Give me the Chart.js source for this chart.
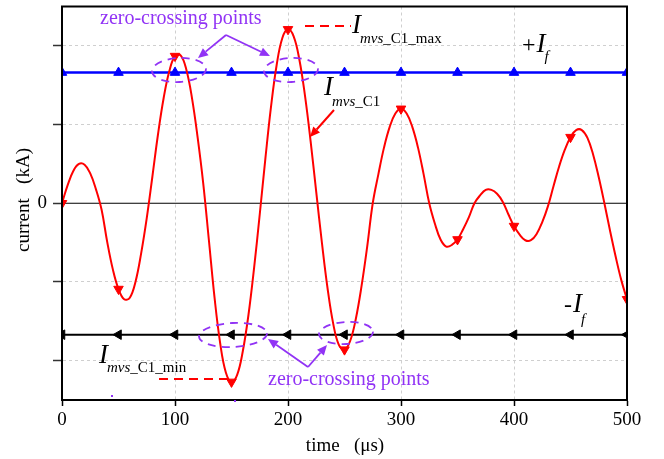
<!DOCTYPE html>
<html><head><meta charset="utf-8">
<script src="https://cdn.jsdelivr.net/npm/chart.js@4"></script>
<style>html,body{margin:0;padding:0;background:#fff}#wrap{width:664px;height:459px}</style>
</head><body><div id="wrap"><canvas id="c" width="664" height="459"></canvas></div>
<script>
// ---- data ----
const time = [0,5,10,15,20,25,30,35,40,45,50,55,60,65,70,75,80,85,90,95,100,105,110,115,120,125,130,135,140,145,150,155,160,165,170,175,180,185,190,195,200,205,210,215,220,225,230,235,240,245,250,255,260,265,270,275,280,285,290,295,300,305,310,315,320,325,330,335,340,345,350,355,360,365,370,375,380,385,390,395,400,405,410,415,420,425,430,435,440,445,450,455,460,465,470,475,480,485,490,495,500];
const currentC1 = [0,0.23,0.41,0.50,0.49,0.38,0.18,-0.08,-0.49,-0.84,-1.09,-1.22,-1.20,-1.00,-0.64,-0.19,0.34,0.88,1.34,1.68,1.87,1.88,1.70,1.34,0.84,0.25,-0.47,-1.20,-1.78,-2.15,-2.27,-2.18,-1.88,-1.42,-0.82,-0.14,0.57,1.23,1.76,2.10,2.21,2.12,1.83,1.37,0.79,0.14,-0.50,-1.08,-1.53,-1.80,-1.86,-1.75,-1.47,-1.06,-0.56,0.00,0.37,0.71,0.97,1.14,1.20,1.14,0.97,0.71,0.37,0.00,-0.26,-0.46,-0.55,-0.53,-0.46,-0.33,-0.18,0.00,0.10,0.17,0.17,0.12,0.02,-0.14,-0.29,-0.40,-0.47,-0.47,-0.39,-0.24,-0.04,0.22,0.47,0.68,0.84,0.93,0.93,0.83,0.62,0.33,0.00,-0.35,-0.68,-0.98,-1.22];
const markerTime = [0,50,100,150,200,250,300,350,400,450,500];
const plusIf = [1.66,1.66,1.66,1.66,1.66,1.66,1.66,1.66,1.66,1.66,1.66];
const minusIf = [-1.67,-1.67,-1.67,-1.67,-1.67,-1.67,-1.67,-1.67,-1.67,-1.67,-1.67];
const xTicks = [0,100,200,300,400,500];
const yTicks = [-2,-1,0,1,2];
const yTickLabels = {"0":"0"};

const SERIF = "'Liberation Serif','Times New Roman',serif";
const PURPLE = '#9133F5';
Chart.defaults.font.family = SERIF;

const pts = (xs, ys) => xs.map((x,i)=>({x:x, y:ys[i]}));

const annot = {
  id:'annot',
  afterDraw(chart){
    const ctx = chart.ctx, a = chart.chartArea;
    ctx.save();
    // frame
    ctx.strokeStyle = '#000'; ctx.lineWidth = 2; ctx.setLineDash([]);
    ctx.strokeRect(a.left, a.top, a.right - a.left, a.bottom - a.top);

    // axis titles
    ctx.fillStyle = '#000';
    ctx.font = '19px ' + SERIF;
    ctx.textAlign = 'center'; ctx.textBaseline = 'middle';
    ctx.fillText('time   (\u03bcs)', 345, 446);
    ctx.save(); ctx.translate(24, 200); ctx.rotate(-Math.PI/2);
    ctx.fillText('current   (kA)', 0, 0); ctx.restore();

    ctx.textBaseline = 'alphabetic'; ctx.textAlign = 'left';
    const sym = (x, y, pre, sub1, sub2, subDy, color) => {
      ctx.fillStyle = color || '#000';
      let cx = x;
      if (pre) { ctx.font = '24px ' + SERIF; ctx.fillText(pre, cx, y); cx += ctx.measureText(pre).width + 1; }
      ctx.font = 'italic 27px ' + SERIF; ctx.fillText('I', cx, y);
      cx += ctx.measureText('I').width - 1;
      ctx.font = 'italic 15px ' + SERIF; ctx.fillText(sub1, cx, y + subDy);
      cx += ctx.measureText(sub1).width;
      if (sub2) { ctx.font = '15px ' + SERIF; ctx.fillText(sub2, cx, y + subDy); }
    };
    sym(352, 33, '', 'mvs', '_C1_max', 10);
    sym(324, 95, '', 'mvs', '_C1', 11);
    sym(99, 363, '', 'mvs', '_C1_min', 9);
    sym(522, 52, '+', 'f', '', 9);
    sym(564, 312, '-', 'f', '', 12);

    // red dashed leaders
    ctx.strokeStyle = '#FF0000'; ctx.lineWidth = 2; ctx.setLineDash([9,6]);
    ctx.beginPath(); ctx.moveTo(305,26); ctx.lineTo(351,26); ctx.stroke();
    ctx.beginPath(); ctx.moveTo(159,379); ctx.lineTo(228,379); ctx.stroke();
    ctx.setLineDash([]);

    const arrow = (x1,y1,x2,y2,color,w) => {
      ctx.strokeStyle = color; ctx.fillStyle = color; ctx.lineWidth = w;
      const ang = Math.atan2(y2-y1, x2-x1), L = 10, H = 4.5;
      const bx = x2 - Math.cos(ang)*L, by = y2 - Math.sin(ang)*L;
      ctx.beginPath(); ctx.moveTo(x1,y1); ctx.lineTo(bx,by); ctx.stroke();
      ctx.beginPath(); ctx.moveTo(x2,y2);
      ctx.lineTo(bx + Math.sin(ang)*H, by - Math.cos(ang)*H);
      ctx.lineTo(bx - Math.sin(ang)*H, by + Math.cos(ang)*H);
      ctx.closePath(); ctx.fill();
    };
    arrow(334,110,310,137,'#FF0000',2);

    // zero-crossing annotations
    ctx.fillStyle = PURPLE; ctx.font = '20px ' + SERIF;
    ctx.fillText('zero-crossing points', 100, 24);
    ctx.fillText('zero-crossing points', 268, 385);
    arrow(226,35,198,58,PURPLE,1.8);
    arrow(226,35,270,56,PURPLE,1.8);
    arrow(308,367,268,339,PURPLE,1.8);
    arrow(308,367,327,345,PURPLE,1.8);
    ctx.strokeStyle = PURPLE; ctx.lineWidth = 1.8; ctx.setLineDash([8,6]);
    [[179,70,27,12],[291,70,27,12],[233,335,34,12],[346,333,27,11]].forEach(e=>{
      ctx.beginPath(); ctx.ellipse(e[0],e[1],e[2],e[3],-0.05,0,Math.PI*2); ctx.stroke();
    });
    ctx.setLineDash([]);
    ctx.fillStyle = PURPLE;
    ctx.fillRect(111,395,2,2); ctx.fillRect(234,400,2,2);
    ctx.restore();
  }
};

new Chart(document.getElementById('c'), {
  type:'line',
  data:{ datasets:[
    { label:'Imvs_C1', data: pts(time, currentC1), borderColor:'#FF0000', backgroundColor:'#FF0000',
      borderWidth:2, tension:0.4, clip:0,
      pointStyle:'triangle', pointRotation:180, pointBorderWidth:1,
      pointRadius: c => markerTime.includes(time[c.dataIndex]) ? 5.5 : 0 },
    { label:'+If', data: pts(markerTime, plusIf), borderColor:'#0000FF', backgroundColor:'#0000FF',
      borderWidth:2.5, clip:0, pointStyle:'triangle', pointRadius:5.5, pointBorderWidth:1 },
    { label:'-If', data: pts(markerTime, minusIf), borderColor:'#000', backgroundColor:'#000',
      borderWidth:2, clip:0, pointStyle:'triangle', pointRotation:-90, pointRadius:5.5, pointBorderWidth:1 },
    { label:'zero', data: pts([0,500],[0,0]), borderColor:'#000', borderWidth:1.2, pointRadius:0, clip:0 }
  ]},
  options:{
    responsive:false, animation:false, devicePixelRatio:1,
    layout:{ padding:{ top:3, right:37, left:0, bottom:0 } },
    plugins:{ legend:{display:false}, tooltip:{enabled:false} },
    scales:{
      x:{ type:'linear', min:0, max:500,
        afterBuildTicks: s => { s.ticks = xTicks.map(v=>({value:v})); },
        afterFit: s => { s.height = 59; s.paddingLeft = 0; s.paddingRight = 0; },
        ticks:{ color:'#000', font:{size:19}, padding:3, maxRotation:0, autoSkip:false },
        grid:{ color: c => (c.tick && (c.tick.value===0 || c.tick.value===500)) ? 'rgba(0,0,0,0)' : '#cfcfcf',
               lineWidth:1, tickColor:'#000', tickLength:6, tickWidth:1.5 },
        border:{ display:true, color:'#000', width:2, dash:[3,3] }
      },
      y:{ type:'linear', min:-2.5, max:2.5,
        afterBuildTicks: s => { s.ticks = yTicks.map(v=>({value:v})); },
        afterFit: s => { s.width = 62; s.paddingTop = 0; s.paddingBottom = 0; },
        ticks:{ color:'#000', font:{size:19}, padding:6, autoSkip:false,
                callback: v => yTickLabels[String(v)] || '' },
        grid:{ color: c => (c.tick && c.tick.value===0) ? 'rgba(0,0,0,0)' : '#cfcfcf',
               lineWidth:1, tickColor:'#333', tickLength:9, tickWidth:1.5 },
        border:{ display:true, color:'#000', width:2, dash:[3,3] }
      }
    }
  },
  plugins:[annot]
});
</script></body></html>
